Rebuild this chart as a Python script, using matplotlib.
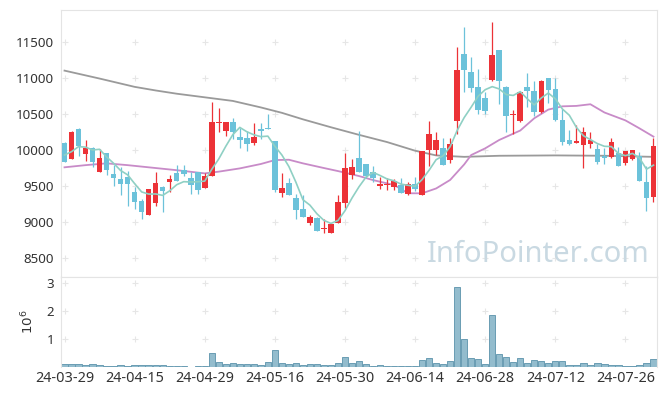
import matplotlib
matplotlib.use("Agg")
import matplotlib.pyplot as plt
import numpy as np

# daily candles, 85 trading days from 24-03-29
opens = [10090, 9880, 10290, 9950, 10030, 9700, 9960, 9670, 9600, 9630,
         9420, 9290, 9100, 9270, 9490, 9560, 9685, 9720, 9605, 9690,
         9480, 9635, 10380, 10270, 10390, 10180, 10170, 10092, 10285, 10310,
         10125, 9405, 9540, 9340, 9180, 8990, 9060, 8900, 8845, 8990,
         9270, 9655, 9885, 9800, 9690, 9505, 9510, 9485, 9520, 9390,
         9525, 9380, 10000, 10000, 10030, 9860, 10395, 11335, 11080, 10875,
         10720, 10965, 11390, 10875, 10480, 10395, 10875, 10820, 10525, 10995,
         10845, 10415, 10140, 10100, 10070, 10085, 10015, 9910, 9900, 9965,
         9815, 9875, 9915, 9560, 9350]
highs = [10110, 10270, 10300, 10135, 10040, 10015, 9965, 9790, 9760, 9710,
         9490, 9315, 9460, 9690, 9500, 9660, 9790, 9790, 9690, 9690,
         9680, 10660, 10580, 10390, 10440, 10310, 10265, 10370, 10370, 10500,
         10125, 9675, 9615, 9390, 9375, 9100, 9065, 9050, 8975, 9375,
         9955, 9875, 10265, 9810, 9780, 9630, 9605, 9600, 9605, 9550,
         9630, 9990, 10400, 10245, 10160, 10160, 11425, 11705, 11295, 11120,
         10810, 11775, 11390, 10880, 10555, 10810, 11065, 10950, 10975, 11000,
         10995, 10570, 10280, 10340, 10325, 10255, 10090, 10025, 10160, 10045,
         9990, 10005, 9975, 9780, 10160]
lows = [9830, 9870, 9920, 9850, 9770, 9700, 9660, 9500, 9380, 9220,
        9180, 9050, 9100, 9230, 9145, 9420, 9565, 9640, 9390, 9390,
        9475, 9635, 10245, 10200, 10150, 10025, 9985, 10065, 10150, 10285,
        9420, 9350, 9380, 9050, 9070, 8960, 8880, 8845, 8845, 8985,
        9190, 9595, 9695, 9605, 9550, 9455, 9445, 9445, 9410, 9380,
        9430, 9370, 9785, 9930, 9790, 9815, 10220, 10800, 10800, 10495,
        10500, 10960, 10635, 10245, 10220, 10385, 10600, 10465, 10515, 10650,
        10400, 10070, 10075, 10095, 9745, 10025, 9800, 9800, 9895, 9780,
        9790, 9860, 9565, 9155, 9280]
closes = [9840, 10250, 10050, 10030, 9830, 9890, 9720, 9610, 9530, 9530,
          9280, 9145, 9460, 9540, 9430, 9595, 9570, 9670, 9515, 9450,
          9640, 10385, 10390, 10390, 10255, 10145, 10085, 10180, 10260, 10290,
          9445, 9480, 9380, 9175, 9075, 9070, 8880, 8920, 8970, 9275,
          9745, 9760, 9700, 9640, 9605, 9530, 9520, 9570, 9410, 9525,
          9460, 9985, 10220, 10140, 9795, 10090, 11110, 11110, 10865, 10555,
          10540, 11320, 10950, 10475, 10495, 10805, 10820, 10525, 10960, 10835,
          10410, 10115, 10085, 10125, 10255, 10140, 9840, 9895, 10105, 9780,
          9985, 10000, 9575, 9330, 10060]

# volume in millions of shares
volumes = [0.09, 0.11, 0.11, 0.08, 0.11, 0.08, 0.05, 0.05, 0.08, 0.05,
           0.08, 0.08, 0.08, 0.08, 0.08, 0.05, 0.05, 0.05, 0.01, 0.05,
           0.05, 0.50, 0.19, 0.09, 0.15, 0.11, 0.11, 0.11, 0.08, 0.19,
           0.62, 0.15, 0.11, 0.15, 0.08, 0.11, 0.11, 0.08, 0.08, 0.15,
           0.36, 0.15, 0.22, 0.11, 0.05, 0.08, 0.05, 0.05, 0.05, 0.05,
           0.05, 0.26, 0.32, 0.15, 0.11, 0.22, 2.83, 1.01, 0.32, 0.29,
           0.11, 1.86, 0.46, 0.36, 0.18, 0.32, 0.15, 0.25, 0.22, 0.15,
           0.22, 0.22, 0.08, 0.08, 0.15, 0.08, 0.15, 0.11, 0.08, 0.08,
           0.05, 0.05, 0.08, 0.15, 0.29]

# 5-day moving average
ma5 = [9930, 9977, 10046, 10040, 10000, 10010, 9904, 9816, 9716, 9656,
       9534, 9419, 9389, 9391, 9371, 9434, 9519, 9561, 9556, 9560,
       9569, 9732, 9876, 10051, 10212, 10313, 10253, 10211, 10185, 10192,
       10052, 9931, 9771, 9554, 9311, 9236, 9116, 9024, 8983, 9023,
       9158, 9334, 9490, 9624, 9690, 9647, 9599, 9573, 9527, 9511,
       9497, 9590, 9720, 9866, 9920, 10046, 10271, 10449, 10594, 10746,
       10836, 10878, 10846, 10768, 10756, 10809, 10709, 10624, 10721, 10789,
       10710, 10569, 10481, 10314, 10198, 10144, 10089, 10051, 10047, 9952,
       9921, 9953, 9889, 9734, 9790]

# 20-day moving average, read at these candles
ma20_idx = [0, 3, 6, 9, 12, 16, 20, 22, 25, 28, 30, 32, 34, 37, 39, 42, 44,
            47, 49, 51, 53, 55, 57, 58, 60, 62, 65, 67, 69, 71, 73, 75, 77,
            80, 82, 84]
ma20 = [9760, 9790, 9815, 9790, 9760, 9720, 9676, 9700, 9745, 9806, 9860,
        9865, 9815, 9750, 9708, 9639, 9583, 9515, 9400, 9400, 9467, 9585,
        9800, 9930, 10023, 10139, 10270, 10440, 10560, 10605, 10611, 10634,
        10520, 10410, 10300, 10185]

# long moving average
ma_long_idx = [0, 5, 10, 13, 16, 20, 24, 28, 31, 34, 38, 42, 46, 50, 53, 57,
               62, 70, 77, 84]
ma_long = [11100, 10990, 10875, 10825, 10780, 10730, 10680, 10590, 10515,
           10425, 10315, 10210, 10110, 9990, 9925, 9905, 9920, 9925, 9920,
           9905]

tick_pos = [0, 10, 20, 30, 40, 50, 60, 70, 80]
tick_labels = ["24-03-29", "24-04-15", "24-04-29", "24-05-16", "24-05-30",
               "24-06-14", "24-06-28", "24-07-12", "24-07-26"]

plt.rcParams["font.family"] = ["Noto Sans", "DejaVu Sans"]

fig = plt.figure(figsize=(6.65, 3.96), dpi=100)
ax = fig.add_axes([61 / 665, 1 - 277 / 396, 596 / 665, 267 / 396])
axv = fig.add_axes([61 / 665, 1 - 367 / 396, 596 / 665, 90 / 396], sharex=ax)

x = np.arange(len(closes))
o = np.array(opens)
c = np.array(closes)
up = c >= o
red = "#ec3237"
blue = "#6cc2da"
cols = np.where(up, red, blue)

ax.vlines(x, lows, highs, colors=cols, linewidth=0.9, zorder=2)
body_h = np.maximum(np.abs(c - o), 12)
ax.bar(x, body_h, bottom=np.minimum(o, c), width=0.8, color=cols,
       linewidth=0, zorder=3)

ax.plot(ma_long_idx, ma_long, color="#9a9a9a", linewidth=1.3, zorder=1)
ax.plot(ma20_idx, ma20, color="#c88bc8", linewidth=1.3, zorder=1)
ax.plot(x, ma5, color="#8fd0c4", linewidth=1.2, zorder=4)

ax.set_xlim(-0.5, len(closes) - 0.5)
ax.set_ylim(8240, 11940)
yt = [8500, 9000, 9500, 10000, 10500, 11000, 11500]
ax.set_yticks(yt)
ax.tick_params(axis="y", length=0, labelsize=9.6, colors="#333333", pad=5)
ax.tick_params(axis="x", length=0, labelbottom=False)

# faint "+" grid marks
gx, gy = np.meshgrid(tick_pos, yt)
ax.scatter(gx.ravel(), gy.ravel(), marker="+", s=18, color="#e6e6e6",
           linewidths=0.8, zorder=0)

ax.text(0.80, 0.085, "InfoPointer.com", transform=ax.transAxes,
        fontsize=21, color="#c9d9e2", ha="center", va="center", zorder=0)

axv.bar(x, volumes, width=0.9, color="#93bccd", edgecolor="#6a9db3",
        linewidth=0.7)
axv.set_ylim(0, 3.2)
axv.set_yticks([1, 2, 3])
axv.set_ylabel("$10^6$", fontsize=9.6, color="#333333", labelpad=7)
axv.tick_params(axis="y", length=0, labelsize=9.6, colors="#333333", pad=5)
axv.set_xticks(tick_pos)
axv.set_xticklabels(tick_labels)
axv.tick_params(axis="x", length=0, labelsize=10.4, colors="#333333", pad=3)
vx, vy = np.meshgrid(tick_pos, [1, 2, 3])
axv.scatter(vx.ravel(), vy.ravel(), marker="+", s=18, color="#e6e6e6",
            linewidths=0.8, zorder=0)

for a in (ax, axv):
    for s in a.spines.values():
        s.set_color("#e4e4e4")
        s.set_linewidth(0.8)
axv.spines["bottom"].set_visible(False)

fig.savefig("out.png", dpi=100)
